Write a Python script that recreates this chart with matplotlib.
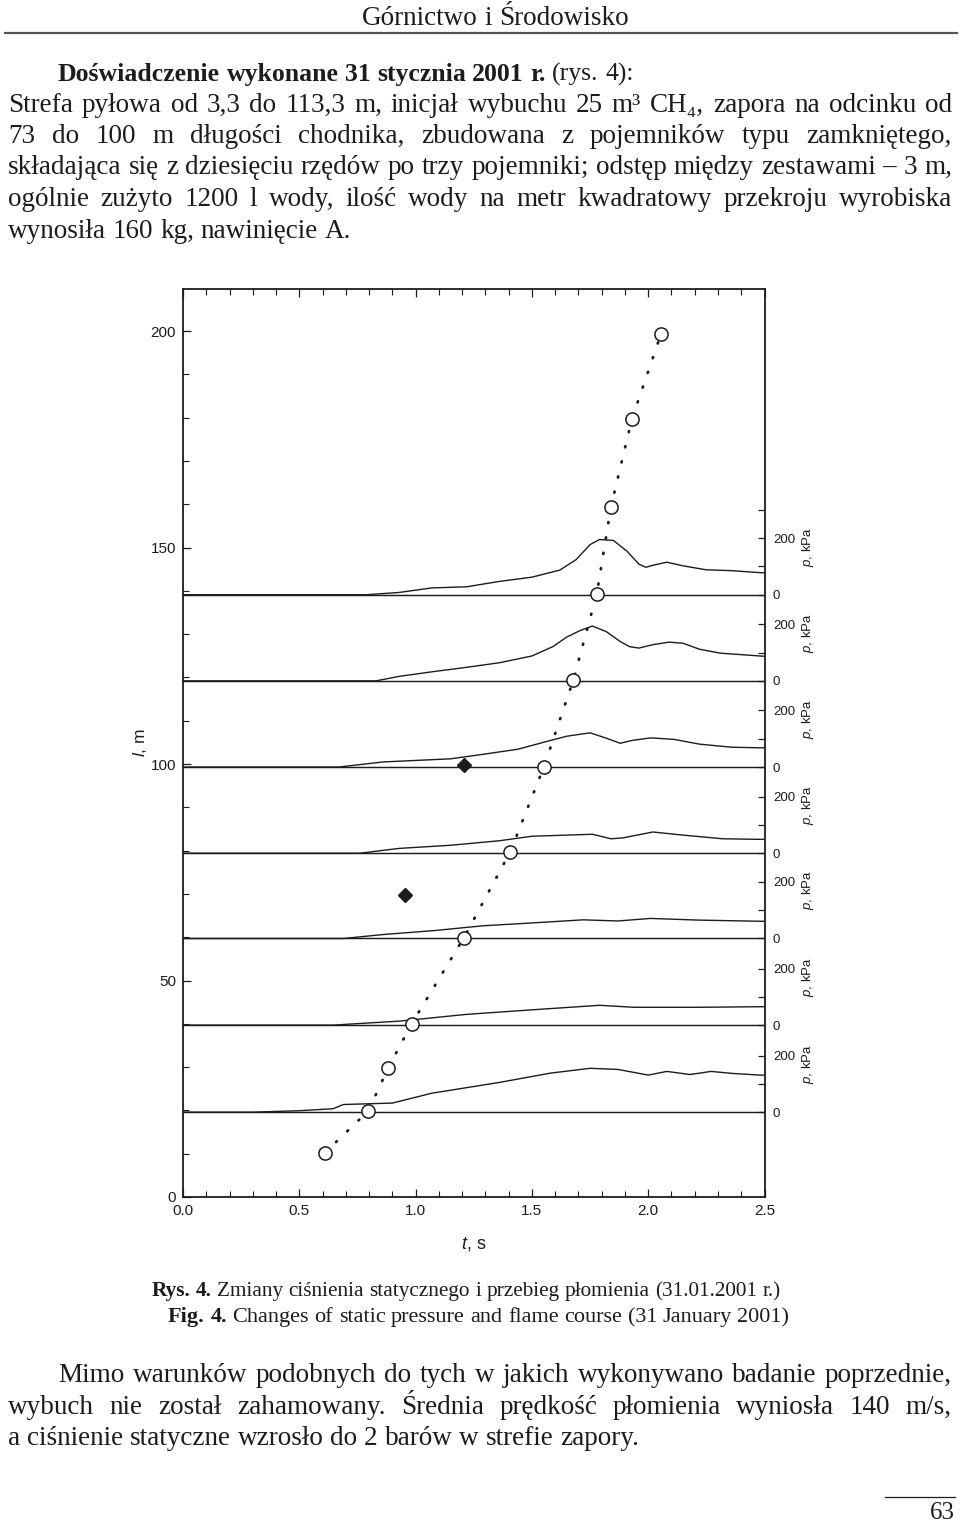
import matplotlib
matplotlib.use('Agg')
import matplotlib.pyplot as plt
import matplotlib.transforms as mtransforms
from matplotlib.ticker import MultipleLocator

plt.rcParams['font.family'] = ['Liberation Sans', 'DejaVu Sans']
plt.rcParams['mathtext.fontset'] = 'custom'
plt.rcParams['mathtext.rm'] = 'Liberation Sans'
plt.rcParams['mathtext.it'] = 'Liberation Sans:italic'

SERIF = ['Liberation Serif', 'DejaVu Serif']
INK = '#1c1c1c'

# gauge positions along the gallery, m (bottom trace first)
gauge_l = [19.6, 39.7, 59.7, 79.4, 99.3, 119.2, 139.1]

# static pressure records: t in s, p in kPa
p_t = [
    [0, 0.30, 0.50, 0.645, 0.69, 0.90, 1.07, 1.36, 1.58, 1.75, 1.87, 2.00, 2.08, 2.18, 2.27, 2.36, 2.48, 2.5],
    [0, 0.645, 0.93, 1.22, 1.50, 1.79, 1.94, 2.22, 2.48, 2.5],
    [0, 0.69, 0.86, 1.08, 1.29, 1.50, 1.72, 1.87, 2.01, 2.22, 2.48, 2.5],
    [0, 0.76, 0.93, 1.15, 1.36, 1.50, 1.65, 1.76, 1.84, 1.89, 2.02, 2.15, 2.32, 2.48, 2.5],
    [0, 0.67, 0.86, 1.15, 1.29, 1.44, 1.58, 1.65, 1.75, 1.82, 1.88, 1.93, 2.01, 2.11, 2.22, 2.36, 2.48, 2.5],
    [0, 0.83, 0.93, 1.07, 1.22, 1.36, 1.50, 1.59, 1.65, 1.71, 1.76, 1.82, 1.88, 1.92, 1.96, 2.02, 2.09, 2.15, 2.22, 2.31, 2.48, 2.5],
    [0, 0.79, 0.93, 1.07, 1.22, 1.36, 1.50, 1.62, 1.69, 1.75, 1.79, 1.85, 1.91, 1.96, 1.99, 2.02, 2.08, 2.15, 2.25, 2.36, 2.48, 2.5],
]
p_kpa = [
    [0, 0, 5, 12, 27, 32, 67, 105, 138, 155, 151, 131, 144, 133, 144, 137, 131, 131],
    [0, 0, 14, 38, 54, 70, 63, 63, 65, 65],
    [0, 0, 14, 28, 45, 55, 66, 62, 71, 65, 61, 61],
    [0, 0, 17, 28, 44, 60, 64, 67, 51, 54, 75, 64, 51, 49, 49],
    [0, 0, 18, 29, 45, 63, 94, 109, 121, 102, 84, 94, 103, 98, 81, 70, 68, 68],
    [0, 0, 16, 32, 48, 64, 88, 121, 155, 179, 194, 174, 139, 121, 116, 128, 137, 133, 112, 98, 88, 87],
    [0, 0, 8, 24, 28, 47, 62, 87, 124, 177, 195, 192, 153, 108, 97, 104, 115, 102, 88, 85, 78, 77],
]

# flame front arrival
flame_t = [0.610, 0.797, 0.883, 0.983, 1.208, 1.406, 1.552, 1.678, 1.779, 1.840, 1.930, 2.055]
flame_l = [10.2, 19.9, 29.9, 40.0, 59.9, 79.6, 99.4, 119.4, 139.3, 159.4, 179.7, 199.3]
mark_t = [0.956, 1.209]
mark_l = [69.7, 99.8]

KPA_TO_M = 0.0653  # vertical scale of the pressure traces

header = 'Górnictwo i Środowisko'
# (segments, mode, left, right, baseline)
para_top = [
    ([('Doświadczenie wykonane 31 stycznia 2001 r.', 'bold'), ('(rys. 4):', 'normal')], 'fit', 58, 632, 81),
    ([('Strefa pyłowa od 3,3 do 113,3 m, inicjał wybuchu 25 m³ CH₄, zapora na odcinku od', 'normal')], 'justify', 8, 952, 112),
    ([('73 do 100 m długości chodnika, zbudowana z pojemników typu zamkniętego,', 'normal')], 'justify', 8, 952, 143),
    ([('składająca się z dziesięciu rzędów po trzy pojemniki; odstęp między zestawami – 3 m,', 'normal')], 'justify', 8, 952, 174),
    ([('ogólnie zużyto 1200 l wody, ilość wody na metr kwadratowy przekroju wyrobiska', 'normal')], 'justify', 8, 952, 206),
    ([('wynosiła 160 kg, nawinięcie A.', 'normal')], 'left', 8, 952, 238),
]
captions = [
    ([('Rys. 4.', 'bold'), ('Zmiany ciśnienia statycznego i przebieg płomienia (31.01.2001 r.)', 'normal')], 152, 783, 1296),
    ([('Fig. 4.', 'bold'), ('Changes of static pressure and flame course (31 January 2001)', 'normal')], 168, 792, 1322),
]
para_bottom = [
    ([('Mimo warunków podobnych do tych w jakich wykonywano badanie poprzednie,', 'normal')], 'justify', 58, 952, 1382),
    ([('wybuch nie został zahamowany. Średnia prędkość płomienia wyniosła 140 m/s,', 'normal')], 'justify', 8, 952, 1414),
    ([('a ciśnienie statyczne wzrosło do 2 barów w strefie zapory.', 'normal')], 'left', 8, 952, 1445),
]

fig = plt.figure(figsize=(9.6, 15.26), dpi=100)
renderer = fig.canvas.get_renderer()

page = fig.add_axes([0, 0, 1, 1])
page.set_xlim(0, 960)
page.set_ylim(1526, 0)
page.axis('off')


def set_line(segs, y, x0, x1, size, mode):
    words = []
    for s, wt in segs:
        for w in s.split():
            words.append((w, wt))
    objs = [page.text(0, y, w, fontsize=size, fontweight=wt, family=SERIF, color=INK,
                      va='baseline', ha='left') for w, wt in words]
    wid = [o.get_window_extent(renderer).width for o in objs]
    gap = 0.25 * size * 100 / 72
    total = sum(wid) + gap * (len(objs) - 1)
    x = x0
    if mode == 'justify' and len(objs) > 1:
        gap = (x1 - x0 - sum(wid)) / (len(objs) - 1)
    elif mode == 'center':
        x = (x0 + x1 - total) / 2
    elif mode == 'fit':
        k = (x1 - x0) / total
        for o in objs:
            o.set_fontsize(size * k)
        wid = [o.get_window_extent(renderer).width for o in objs]
        gap = gap * k
    for o, w in zip(objs, wid):
        o.set_x(x)
        x += w + gap
    return objs


body = 19.5
set_line([(header, 'normal')], 25, 362, 628, 18, 'fit')
page.plot([5, 957], [33, 33], color='#555555', lw=1.6)
for segs, mode, x0, x1, y in para_top:
    set_line(segs, y, x0, x1, body, mode)
for segs, x0, x1, y in captions:
    set_line(segs, y, x0, x1, 15, 'fit')
for segs, mode, x0, x1, y in para_bottom:
    set_line(segs, y, x0, x1, body, mode)
page.plot([885, 955], [1497, 1497], color=INK, lw=0.9)
page.text(955, 1519, '63', fontsize=18, family=SERIF, color=INK, ha='right', va='baseline')

# chart
ax = fig.add_axes([183 / 960, 1 - 1197 / 1526, 581.5 / 960, 908 / 1526])
ax.set_xlim(0, 2.5)
ax.set_ylim(0, 209.7)

for g, t, p in zip(gauge_l, p_t, p_kpa):
    ax.axhline(g, color=INK, lw=1.05, zorder=2)
    ax.plot(t, [g + v * KPA_TO_M for v in p], color=INK, lw=1.0, zorder=2)

ax.plot(flame_t, flame_l, color=INK, lw=2.0, linestyle=(0, (0.4, 5.2)),
        dash_capstyle='round', zorder=3)
ax.plot(flame_t, flame_l, 'o', ms=9.5, mfc='white', mec=INK, mew=1.1, zorder=4)
ax.plot(mark_t, mark_l, 'D', ms=7, mfc=INK, mec=INK, zorder=4)

ax.xaxis.set_minor_locator(MultipleLocator(0.1))
ax.yaxis.set_minor_locator(MultipleLocator(10))
ax.set_xticks([0, 0.5, 1.0, 1.5, 2.0, 2.5])
ax.set_xticklabels(['0.0', '0.5', '1.0', '1.5', '2.0', '2.5'])
ax.set_yticks([0, 50, 100, 150, 200])
ax.tick_params(axis='x', which='both', direction='in', top=True, bottom=True,
               labelsize=11, colors=INK, pad=5)
ax.tick_params(axis='y', which='both', direction='in', left=True, right=False,
               labelsize=11, colors=INK, pad=5)
ax.tick_params(which='major', length=6, width=0.9)
ax.tick_params(which='minor', length=4, width=0.8)
for s in ax.spines.values():
    s.set_color(INK)
    s.set_linewidth(1.3)
ax.set_xlabel('$t$, s', fontsize=13, color=INK, labelpad=12)
ax.set_ylabel('$l$, m', fontsize=12.5, color=INK)
ax.yaxis.set_label_coords(-0.058, 0.5)

ax2 = ax.twinx()
ax2.set_ylim(ax.get_ylim())
pos, lab = [], []
for i, g in enumerate(gauge_l):
    levels = [0, 100, 200] + ([300] if i == len(gauge_l) - 1 else [])
    for v in levels:
        pos.append(g + v * KPA_TO_M)
        lab.append(str(v) if v in (0, 200) else '')
ax2.set_yticks(pos)
ax2.set_yticklabels(lab)
ax2.tick_params(axis='y', direction='in', length=5, width=0.9, labelsize=9.5,
                colors=INK, pad=6)
for s in ax2.spines.values():
    s.set_visible(False)

trans = mtransforms.blended_transform_factory(ax2.transAxes, ax2.transData)
for g in gauge_l:
    ax2.text(1.075, g + 170 * KPA_TO_M, '$p$, kPa', transform=trans, rotation=90,
             ha='center', va='center', fontsize=9.5, color=INK, clip_on=False)

fig.savefig('out.png', dpi=100)
